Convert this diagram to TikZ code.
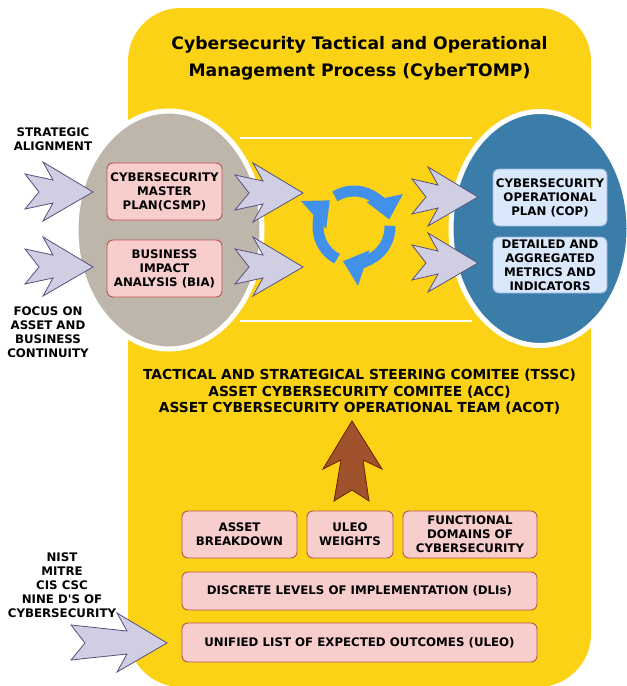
\documentclass[tikz,border=0pt]{standalone}
\usepackage{fontspec}
\setmainfont{DejaVu Sans}
\usetikzlibrary{arrows.meta,shapes.geometric}
\definecolor{ylw}{RGB}{252,210,22}
\definecolor{ellgray}{RGB}{190,181,171}
\definecolor{ellblue}{RGB}{58,125,168}
\definecolor{pinkfill}{RGB}{248,206,204}
\definecolor{pinkline}{RGB}{184,84,80}
\definecolor{bluefill}{RGB}{218,232,252}
\definecolor{blueline}{RGB}{150,180,225}
\definecolor{lavfill}{RGB}{208,206,226}
\definecolor{lavline}{RGB}{86,81,126}
\definecolor{brownfill}{RGB}{160,82,45}
\definecolor{brownline}{RGB}{109,31,0}
\definecolor{cycblue}{RGB}{65,145,235}
\tikzset{
  txt/.style={font=\fontsize{11.8}{14}\selectfont\bfseries, align=center, inner sep=0pt},
  pinkbox/.style={txt, draw=pinkline, fill=pinkfill, line width=0.9pt, rounded corners=6pt},
  bluebox/.style={txt, draw=blueline, fill=bluefill, line width=0.9pt, rounded corners=6pt},
  bigell/.style={ellipse, draw=white, line width=5pt, inner sep=0pt},
  lavarrow/.style={fill=lavfill, draw=lavline, line width=0.8pt, line join=miter},
  cycarrow/.style={draw=cycblue, line width=11pt, -{Triangle[length=22pt,width=36pt]}},
  pics/larrow/.style={code={
    \path[lavarrow] (0,0) -- (-50,-30) -- (-40,-12) -- (-#1,-18) -- (-#1+14,0)
      -- (-#1,17) -- (-40,11) -- (-50,29) -- cycle;}}
}
\begin{document}
\begin{tikzpicture}[x=1pt,y=-1pt]
\useasboundingbox (0,0) rectangle (627,686);
% yellow frame
\fill[ylw, rounded corners=53pt] (128,8) rectangle (591,687);
% white lines
\draw[white, line width=2pt] (240,138) -- (472,138);
\draw[white, line width=2pt] (240,321) -- (472,321);
% ellipses
\node[bigell, fill=ellgray, minimum width=186, minimum height=238] (lell) at (169,230) {};
\node[bigell, fill=ellblue, minimum width=178, minimum height=234] (rell) at (540,228.5) {};
% title
\node[font=\fontsize{17.2}{27}\selectfont\bfseries, align=center, inner sep=0pt] (title) at (359.5,58) {Cybersecurity Tactical and Operational\\Management Process (CyberTOMP)};
% lavender arrows
\pic at (93,192) {larrow=68};
\pic at (93,267) {larrow=68};
\pic at (303,193) {larrow=68};
\pic at (303,267) {larrow=68};
\pic at (478,197) {larrow=66};
\pic at (478,263) {larrow=66};
\pic at (167,643) {larrow=96};
% cycle arrows
\coordinate (cyc) at (354,227);
\draw[cycarrow] ([shift={(-122:36)}]cyc) arc[start angle=-122, end angle=-12, radius=36];
\draw[cycarrow] ([shift={(-2:36)}]cyc) arc[start angle=-2, end angle=108, radius=36];
\draw[cycarrow] ([shift={(118:36)}]cyc) arc[start angle=118, end angle=228, radius=36];
% side labels
\node[txt] (strat) at (53,139) {STRATEGIC\\ALIGNMENT};
\node[txt] (focus) at (48,332) {FOCUS ON\\ASSET AND\\BUSINESS\\CONTINUITY};
\node[txt] (nist) at (62,585) {NIST\\MITRE\\CIS CSC\\NINE D\textquotesingle S OF\\CYBERSECURITY};
% left boxes
\node[pinkbox, minimum width=115, minimum height=57] (csmp) at (164.5,191.5) {CYBERSECURITY\\MASTER\\PLAN(CSMP)};
\node[pinkbox, minimum width=115, minimum height=57] (bia) at (164.5,268.5) {BUSINESS\\IMPACT\\ANALYSIS (BIA)};
% right boxes
\node[bluebox, minimum width=114, minimum height=57] (cop) at (550,197.5) {CYBERSECURITY\\OPERATIONAL\\PLAN (COP)};
\node[bluebox, minimum width=114, minimum height=56] (met) at (550,265) {DETAILED AND\\AGGREGATED\\METRICS AND\\INDICATORS};
% committees
\node[font=\fontsize{13.8}{16.5}\selectfont\bfseries, align=center, inner sep=0pt] (comm) at (359.5,392) {TACTICAL AND STRATEGICAL STEERING COMITEE (TSSC)\\ASSET CYBERSECURITY COMITEE (ACC)\\ASSET CYBERSECURITY OPERATIONAL TEAM (ACOT)};
% brown arrow
\path[fill=brownfill, draw=brownline, line width=0.8pt] (352,421) -- (382,469) -- (363,460) -- (369,501) -- (352,490) -- (334,501) -- (341,460) -- (323,469) -- cycle;
% bottom boxes
\node[pinkbox, minimum width=115, minimum height=47] (asset) at (239.5,534.5) {ASSET\\BREAKDOWN};
\node[pinkbox, minimum width=86, minimum height=47] (weights) at (350,534.5) {ULEO\\WEIGHTS};
\node[pinkbox, minimum width=134, minimum height=47] (func) at (470,534.5) {FUNCTIONAL\\DOMAINS OF\\CYBERSECURITY};
\node[pinkbox, minimum width=355, minimum height=38] (dli) at (359.5,591) {DISCRETE LEVELS OF IMPLEMENTATION (DLIs)};
\node[pinkbox, minimum width=355, minimum height=39] (uleo) at (359.5,642.5) {UNIFIED LIST OF EXPECTED OUTCOMES (ULEO)};
\end{tikzpicture}
\end{document}
